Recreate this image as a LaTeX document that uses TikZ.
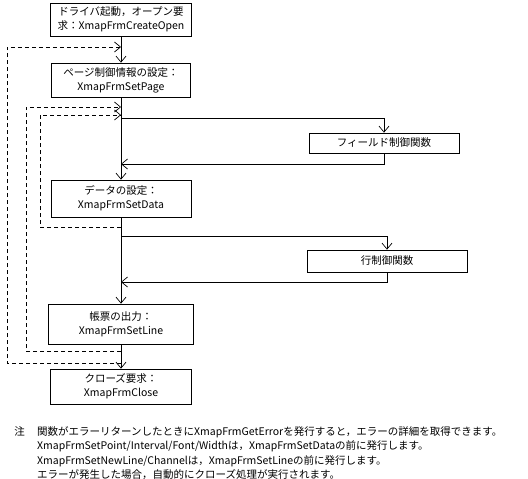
\documentclass[tikz,border=0pt]{standalone}
\usepackage{fontspec}
\setmainfont{Noto Sans CJK JP}
\usepackage{tikz}
\usetikzlibrary{arrows.meta,positioning,calc}

\begin{document}
\begin{tikzpicture}[
        x=1pt, y=-1pt,
        font=\fontsize{10.5}{14}\selectfont,
        process/.style={rectangle, draw, line width=0.7pt, align=center, inner sep=2pt},
        flow/.style={line width=0.7pt},
        loopback/.style={line width=0.7pt, dashed, dash pattern=on 4pt off 3pt},
        >={Straight Barb[length=6pt,width=10pt]}
    ]
        \useasboundingbox (0,0) rectangle (528,479);

        % main steps
        \node[process, minimum width=141pt, minimum height=33pt] (open) at (121,19.5) {ドライバ起動，オープン要\\求：XmapFrmCreateOpen};
        \node[process, minimum width=139pt, minimum height=34pt] (page) at (121,80) {ページ制御情報の設定：\\XmapFrmSetPage};
        \node[process, minimum width=140pt, minimum height=37pt] (data) at (121,198.5) {データの設定：\\XmapFrmSetData};
        \node[process, minimum width=145pt, minimum height=40pt] (line) at (121,324) {帳票の出力：\\XmapFrmSetLine};
        \node[process, minimum width=141pt, minimum height=35pt] (close) at (121,386.5) {クローズ要求：\\XmapFrmClose};

        % side calls
        \node[process, minimum width=150pt, minimum height=20pt] (field) at (384,143) {フィールド制御関数};
        \node[process, minimum width=160pt, minimum height=22pt] (row) at (387,261) {行制御関数};

        % junctions on the trunk
        \coordinate (in1) at (121,47);
        \coordinate (in2) at (121,107);
        \coordinate (in3) at (121,115);
        \coordinate (fieldout) at (121,118);
        \coordinate (fieldin) at (121,164);
        \coordinate (out3) at (121,227);
        \coordinate (rowout) at (121,236);
        \coordinate (rowin) at (121,282);
        \coordinate (out2) at (121,351);
        \coordinate (out1) at (121,363);

        \draw[flow, ->] (open) -- (page);
        \draw[flow, ->] (page) -- (data);
        \draw[flow, ->] (data) -- (line);
        \draw[flow, ->] (line) -- (close);

        \draw[flow, ->] (fieldout) -| (field);
        \draw[flow, ->] (field) |- (fieldin);
        \draw[flow, ->] (rowout) -| (row);
        \draw[flow, ->] (row) |- (rowin);

        % repeats
        \draw[loopback, ->] (out1) -- ++(-114,0) |- (in1);
        \draw[loopback, ->] (out2) -- ++(-95,0) |- (in2);
        \draw[loopback, ->] (out3) -- ++(-81,0) |- (in3);

        % note
        \node[anchor=north west, align=left, font=\fontsize{10.5}{14.5}\selectfont, inner sep=0pt] (note) at (37,426)
            {関数がエラーリターンしたときにXmapFrmGetErrorを発行すると，エラーの詳細を取得できます。\\
             XmapFrmSetPoint/Interval/Font/Widthは，XmapFrmSetDataの前に発行します。\\
             XmapFrmSetNewLine/Channelは，XmapFrmSetLineの前に発行します。\\
             エラーが発生した場合，自動的にクローズ処理が実行されます。};
        \node[anchor=north east, inner sep=0pt] (notemark) at ([xshift=-12pt]note.north west) {注};
    \end{tikzpicture}
\end{document}
